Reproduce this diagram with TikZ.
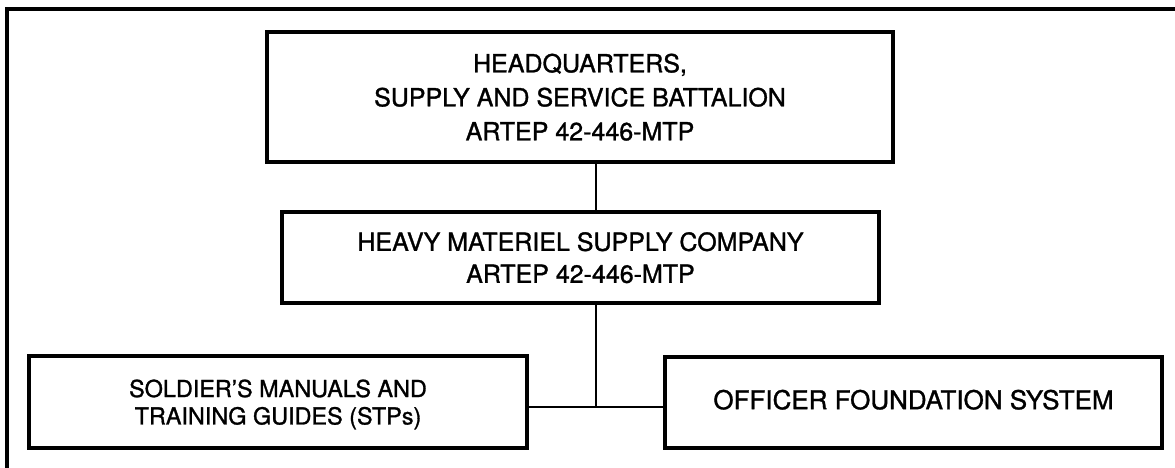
\documentclass[tikz,border=0pt]{standalone}
\usepackage{fontspec}
\setmainfont{TeX Gyre Heros}[UprightFeatures={FakeBold=1.2}]
\begin{document}
\begin{tikzpicture}[x=0.5pt, y=-0.5pt,
		unit/.style={draw, line width=1.6pt, inner sep=0pt, outer sep=0pt, align=center},
		link/.style={line width=1.4pt}]
	\useasboundingbox (0,0) rectangle (1175,467);
	\draw[line width=2pt] (1180,9) -- (7,9) -- (7,472);
	
	\node[unit, minimum width=313pt, minimum height=65pt, text depth=-6pt, font=\fontsize{12.5}{17}\selectfont] (hq) at (580,97) {HEADQUARTERS,\\SUPPLY AND SERVICE BATTALION\\ARTEP 42-446-MTP};
	\node[unit, minimum width=298.5pt, minimum height=45.5pt, text depth=-6pt, font=\fontsize{12.5}{16}\selectfont] (company) at (580.5,257.5) {HEAVY MATERIEL SUPPLY COMPANY\\ARTEP 42-446-MTP};
	\node[unit, minimum width=249pt, minimum height=46pt, text depth=-4pt, font=\fontsize{11.7}{13.7}\selectfont] (stp) at (278,402) {SOLDIER'S MANUALS AND\\TRAINING GUIDES (STPs)};
	\node[unit, minimum width=248.5pt, minimum height=45.5pt, text depth=3pt, font=\fontsize{13}{15}\selectfont] (ofs) at (913.5,402.5) {OFFICER FOUNDATION SYSTEM};
	\coordinate (hub) at (596,407);
	
	\draw[link] (hq.south -| hub) -- (company.north -| hub);
	\draw[link] (company.south -| hub) -- (hub);
	\draw[link] (stp.east |- hub) -- (ofs.west |- hub);
\end{tikzpicture}
\end{document}
